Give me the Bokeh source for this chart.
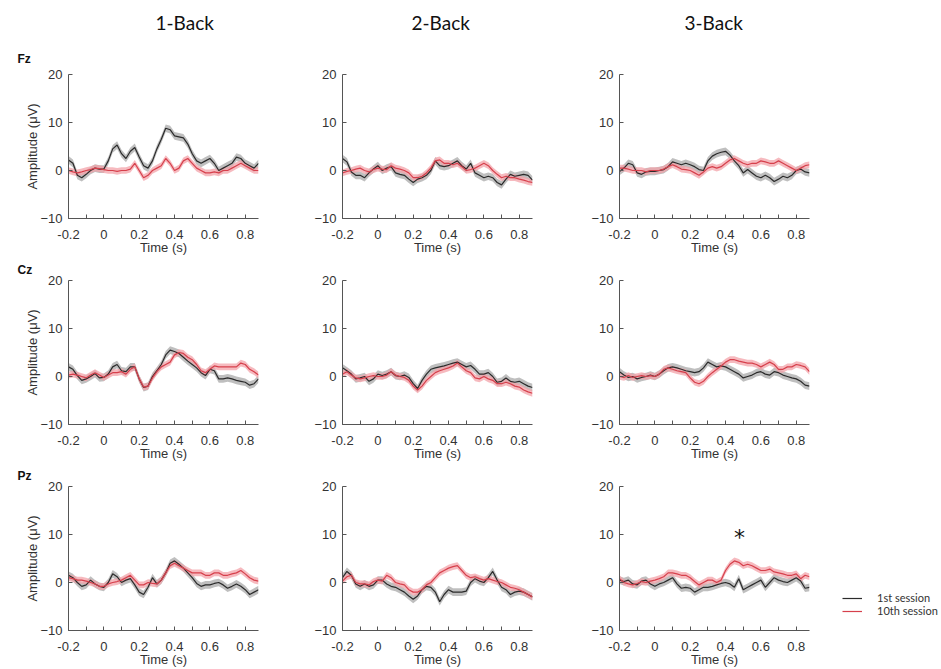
from bokeh.plotting import figure
from bokeh.layouts import row, column
from bokeh.models import FixedTicker, Title, Legend, LegendItem, Range1d
from bokeh.embed import file_html
from bokeh.resources import INLINE
from bokeh.core.properties import value

# ---------------- data ----------------
TIME = [-0.2, -0.175, -0.15, -0.125, -0.1, -0.075, -0.05, -0.025, 0.0, 0.025,
        0.05, 0.075, 0.1, 0.125, 0.15, 0.175, 0.2, 0.225, 0.25, 0.275,
        0.3, 0.325, 0.35, 0.375, 0.4, 0.425, 0.45, 0.475, 0.5, 0.525,
        0.55, 0.575, 0.6, 0.625, 0.65, 0.675, 0.7, 0.725, 0.75, 0.775,
        0.8, 0.825, 0.85, 0.875]

CONDITIONS = ["1-Back", "2-Back", "3-Back"]
ELECTRODES = ["Fz", "Cz", "Pz"]
SESSIONS = ["1st session", "10th session"]

X_TICKS = [-0.2, 0.0, 0.2, 0.4, 0.6, 0.8]
X_TICK_LABELS = ["-0.2", "0", "0.2", "0.4", "0.6", "0.8"]
X_MINOR = [-0.1, 0.1, 0.3, 0.5, 0.7]
Y_TICKS = [-10, 0, 10, 20]

SEM_1ST = 0.8
SEM_10TH = 0.7

FZ_1B_S1 = [2.2, 1.5, -1.0, -1.5, -0.8, 0.0, 0.5, 0.3, 0.3, 2.0, 4.5, 5.3, 3.5, 2.5, 4.0,
            4.8, 2.8, 1.0, 0.5, 2.0, 4.5, 6.5, 8.8, 8.5, 7.2, 7.0, 6.8, 5.5, 3.5, 2.0,
            1.5, 2.0, 2.5, 1.5, 0.0, 0.5, 1.0, 1.5, 2.8, 2.5, 1.5, 1.0, 0.5, 1.5]
FZ_1B_S10 = [0.0, -0.3, -0.5, -0.3, 0.0, 0.2, 0.5, 0.4, 0.2, 0.0, 0.0, -0.2, 0.0, 0.0, 0.3,
             1.5, 0.0, -1.5, -1.0, 0.0, 0.5, 1.0, 2.5, 1.5, 0.0, 0.5, 2.0, 2.5, 1.5, 0.5,
             0.0, -0.5, -0.5, -0.3, -0.5, 0.0, 0.0, 0.5, 1.0, 1.5, 1.0, 0.5, 0.0, 0.0]
CZ_1B_S1 = [2.0, 1.5, 0.2, -0.8, -0.5, 0.0, 0.6, -0.3, -0.2, 0.5, 2.0, 2.5, 1.2, 1.0, 2.0,
            2.0, -0.5, -2.3, -2.0, 0.0, 1.2, 2.5, 4.5, 5.5, 5.2, 4.8, 4.0, 3.2, 2.5, 1.8,
            0.8, 0.2, 1.5, 1.2, -0.5, -0.5, -0.3, -0.5, -0.8, -1.0, -1.2, -1.8, -1.5, -0.5]
CZ_1B_S10 = [0.3, 0.5, 0.3, 0.0, -0.3, 0.3, 0.8, 0.3, -0.2, 0.3, 0.8, 0.8, 1.0, 0.5, 1.5,
             2.0, -0.5, -2.2, -2.0, -0.3, 1.0, 2.0, 2.5, 3.0, 4.5, 5.0, 4.8, 4.0, 3.5, 2.5,
             1.2, 0.8, 1.5, 2.2, 2.0, 2.0, 2.0, 2.0, 2.0, 2.8, 2.5, 1.5, 1.0, 0.3]
PZ_1B_S1 = [1.5, 1.0, 0.0, -0.8, -0.5, 0.5, -0.3, -0.8, -1.0, 0.0, 1.8, 1.2, 0.0, 0.5, 0.8,
            -0.5, -2.0, -2.5, -1.0, 1.0, -0.3, 0.5, 2.0, 4.0, 4.5, 3.8, 3.0, 2.0, 1.0, -0.2,
            -0.8, -0.5, -0.5, -0.2, 0.0, -0.5, -1.2, -0.8, -0.3, -0.8, -1.5, -2.5, -2.0, -1.5]
PZ_1B_S10 = [1.0, 0.8, 0.5, 0.5, 0.3, 0.0, -0.3, -0.8, -0.8, -0.3, 0.0, 0.2, 0.5, 1.0, 1.5,
             0.5, -0.5, -0.5, 0.0, -0.2, -0.3, 0.5, 2.0, 3.5, 4.0, 3.5, 3.0, 2.5, 2.0, 2.0,
             2.0, 1.5, 1.5, 2.0, 2.0, 1.5, 1.5, 1.8, 2.0, 2.5, 1.8, 1.0, 0.5, 0.3]

FZ_2B_S1 = [2.5, 1.8, -0.3, -1.0, -1.0, -1.5, -0.5, 0.3, 1.0, 0.0, 0.5, 0.8, -0.5, -0.8, -1.0,
            -1.8, -2.5, -1.8, -1.5, -1.0, 0.0, 2.0, 1.0, 0.8, 1.0, 1.5, 2.0, 1.0, 0.3, 1.5,
            -0.5, -1.0, -1.5, -1.2, -1.5, -2.5, -3.0, -1.8, -0.8, -1.2, -1.0, -0.8, -1.0, -2.0]
FZ_2B_S10 = [-0.5, -0.2, 0.0, 0.3, 0.5, 0.0, -0.3, 0.2, 0.5, 0.3, 0.2, 1.0, 0.5, 0.3, 0.0,
             -0.5, -1.5, -1.5, -1.2, -0.5, 0.5, 2.0, 2.2, 1.5, 1.5, 1.2, 1.5, 0.8, 0.0, 0.2,
             0.5, 1.0, 1.5, 1.0, 0.0, -0.8, -1.5, -1.2, -1.5, -1.5, -1.8, -2.0, -2.3, -2.5]
CZ_2B_S1 = [1.8, 1.2, 0.5, -0.5, -0.3, 0.0, -1.0, -0.5, 0.5, 0.2, 0.5, 1.0, 0.2, 0.0, 0.3,
            -0.2, -1.5, -2.5, -0.8, 0.5, 1.5, 1.8, 2.0, 2.2, 2.5, 2.8, 3.0, 2.5, 2.0, 2.3,
            1.5, 0.5, 0.5, 0.8, 0.0, -1.2, -1.0, -0.3, -1.0, -1.2, -1.0, -1.5, -2.0, -2.3]
CZ_2B_S10 = [0.5, 1.0, 0.3, -0.3, -0.5, -0.3, 0.0, 0.2, 0.0, 0.0, 0.3, 1.0, 0.3, 0.0, -0.2,
             -0.8, -2.0, -2.8, -2.0, -0.8, 0.0, 0.8, 1.2, 1.5, 1.8, 2.2, 2.8, 2.0, 1.2, 0.8,
             -0.3, -0.5, 0.0, -0.5, -0.8, -1.5, -1.5, -1.2, -1.5, -2.0, -2.2, -2.8, -3.2, -3.5]
PZ_2B_S1 = [1.0, 2.3, 1.5, -0.3, -0.8, -0.3, -0.8, -0.5, 0.5, 0.5, -0.3, -0.8, -1.0, -1.5, -2.0,
            -2.8, -3.5, -2.8, -1.5, -0.8, -1.0, -2.0, -4.0, -2.5, -1.5, -2.0, -2.0, -2.0, -1.8, 0.0,
            0.8, 0.3, 0.0, 1.0, 2.3, 0.5, -1.0, -1.5, -2.5, -2.0, -1.8, -2.0, -2.5, -3.0]
PZ_2B_S10 = [0.3, 1.2, 1.5, 0.0, -0.3, -0.3, -0.5, 0.2, 0.5, 0.3, 1.5, 1.0, 0.0, -0.3, -0.5,
             -1.5, -2.0, -2.0, -1.5, -0.5, 0.0, 1.0, 2.0, 2.5, 3.0, 3.3, 3.5, 2.5, 1.5, 1.0,
             1.2, 0.8, 0.5, 0.8, 0.5, 0.2, 0.0, -0.5, -1.0, -1.2, -1.5, -2.0, -2.5, -3.0]

FZ_3B_S1 = [-0.2, 0.5, 1.5, 1.2, -0.5, -0.8, -0.3, -0.2, -0.2, 0.0, 0.2, 0.8, 1.8, 1.5, 1.2,
            1.5, 1.2, 0.8, 0.2, 0.0, 2.0, 3.0, 3.5, 3.8, 4.0, 3.2, 2.0, 1.0, -0.5, 0.2,
            -0.5, -1.2, -1.5, -1.0, -1.5, -2.3, -1.8, -1.2, -1.5, -1.0, 0.0, 0.3, -0.3, -0.5]
FZ_3B_S10 = [0.5, 0.5, 0.3, 0.0, 0.0, 0.0, -0.3, 0.0, 0.0, 0.0, 0.3, 0.8, 1.2, 0.8, 0.3,
             0.2, 0.0, -0.5, -1.0, -0.3, 0.5, 0.8, 0.5, 0.8, 1.5, 2.2, 2.5, 2.0, 1.5, 1.2,
             1.5, 1.5, 2.0, 1.8, 1.5, 1.5, 2.0, 1.5, 1.0, 0.5, 0.0, 0.5, 1.0, 1.2]
CZ_3B_S1 = [1.0, 0.3, -0.2, 0.0, -0.5, -0.2, 0.0, 0.3, 0.0, 0.5, 1.2, 1.8, 2.0, 1.8, 1.5,
            1.2, 1.0, 0.8, 1.0, 1.8, 3.0, 2.5, 2.0, 2.2, 2.0, 1.5, 1.0, 0.5, -0.3, 0.0,
            0.3, 0.8, 1.0, 0.5, 0.3, 1.0, 0.8, 0.3, 0.0, -0.3, -0.5, -1.0, -1.8, -2.0]
CZ_3B_S10 = [0.0, -0.2, 0.2, -0.2, 0.0, 0.2, 0.0, 0.2, 0.0, 0.5, 1.5, 1.8, 1.5, 1.2, 1.0,
             0.8, -0.3, -1.2, -1.5, -1.0, 0.0, 0.8, 1.5, 2.2, 3.0, 3.5, 3.5, 3.2, 3.0, 2.8,
             2.8, 2.5, 2.0, 2.5, 3.0, 2.5, 1.5, 1.5, 2.0, 2.0, 2.5, 2.3, 2.0, 1.0]
PZ_3B_S1 = [0.5, 0.2, 0.5, -0.3, -0.5, 0.3, 0.5, -0.3, -0.8, -0.3, 0.0, 0.5, 1.0, -0.3, -1.2,
            -1.0, -1.2, -2.0, -1.5, -1.0, -1.0, -0.8, -0.5, -0.2, 0.0, -0.3, -1.0, 0.8, -1.5, -1.0,
            -0.5, 0.0, 0.5, -1.0, 0.0, 1.0, 0.5, 0.2, 0.0, 0.5, 1.0, 0.3, -1.2, -1.0]
PZ_3B_S10 = [0.8, 0.0, -0.3, -0.5, -0.2, 0.2, 0.0, 0.3, 0.5, 0.8, 1.2, 2.0, 2.0, 1.8, 1.5,
             1.5, 1.0, 0.2, -0.5, 0.0, 0.5, 0.5, 0.0, 0.5, 2.5, 3.8, 4.5, 4.2, 3.5, 3.8,
             3.5, 3.0, 2.5, 2.5, 2.8, 2.2, 2.0, 1.8, 1.5, 1.5, 1.8, 0.8, 1.5, 1.2]

# significance marker (Pz, 3-Back)
SIG_TIME = [0.479]
SIG_LEVEL = [9.4]

DATA = [
    [(FZ_1B_S1, FZ_1B_S10), (FZ_2B_S1, FZ_2B_S10), (FZ_3B_S1, FZ_3B_S10)],
    [(CZ_1B_S1, CZ_1B_S10), (CZ_2B_S1, CZ_2B_S10), (CZ_3B_S1, CZ_3B_S10)],
    [(PZ_1B_S1, PZ_1B_S10), (PZ_2B_S1, PZ_2B_S10), (PZ_3B_S1, PZ_3B_S10)],
]

# ---------------- styling ----------------
BLACK_LINE = "#2b2b2b"
BLACK_BAND = "#b4b4b4"
RED_LINE = "#d6404c"
RED_BAND = "#f3a3a9"
AXIS_COL = "#555555"
TEXT_COL = "#333333"

X_START, X_END = -0.2, 0.875
Y_MIN, Y_MAX = -10, 20
FRAME_W, FRAME_H = 190, 144
BORDER_L = [68, 60, 60]
BORDER_R = [24, 27, 122]
BORDER_T = [74, 22, 22]
BORDER_B = [39, 39, 39]
ROW_LABEL_STANDOFF = [17, 7, 7]
COL_TITLE_STANDOFF = 16
COL_TITLE_DX = [87, 69, 65]


def row_label(text, standoff):
    return Title(text=text, align="left", offset=-51, standoff=standoff,
                 text_font="Liberation Sans", text_font_style="bold",
                 text_font_size="12px", text_color="#111111")


def make_panel(r, c):
    s1, s10 = DATA[r][c]
    p = figure(title=None, frame_width=FRAME_W, frame_height=FRAME_H,
               x_range=Range1d(X_START, X_END), y_range=Range1d(Y_MIN, Y_MAX),
               output_backend="svg", toolbar_location=None,
               min_border_left=BORDER_L[c], min_border_right=BORDER_R[c],
               min_border_top=BORDER_T[r], min_border_bottom=BORDER_B[r])
    p.xgrid.visible = False
    p.ygrid.visible = False
    p.outline_line_color = None
    p.background_fill_color = "white"
    p.border_fill_color = "white"

    p.varea(x=TIME, y1=[v - SEM_1ST for v in s1], y2=[v + SEM_1ST for v in s1],
            fill_color=BLACK_BAND, fill_alpha=0.85)
    p.varea(x=TIME, y1=[v - SEM_10TH for v in s10], y2=[v + SEM_10TH for v in s10],
            fill_color=RED_BAND, fill_alpha=0.75)
    l1 = p.line(TIME, s1, line_color=BLACK_LINE, line_width=1.2)
    l10 = p.line(TIME, s10, line_color=RED_LINE, line_width=1.2)

    # axes
    xa = p.xaxis[0]
    xa.ticker = FixedTicker(ticks=X_TICKS, minor_ticks=X_MINOR)
    xa.major_label_overrides = dict(zip(X_TICKS, X_TICK_LABELS))
    xa.axis_label = "Time (s)"
    ya = p.yaxis[0]
    ya.ticker = FixedTicker(ticks=Y_TICKS, minor_ticks=[])
    if c == 0:
        ya.axis_label = "Amplitude (\u03bcV)"
    for ax in (xa, ya):
        ax.axis_line_color = AXIS_COL
        ax.major_tick_line_color = AXIS_COL
        ax.minor_tick_line_color = AXIS_COL
        ax.major_tick_in = 4
        ax.major_tick_out = 0
        ax.minor_tick_in = 4
        ax.minor_tick_out = 0
        ax.major_label_text_font = "Liberation Sans"
        ax.major_label_text_font_size = "13px"
        ax.major_label_text_color = TEXT_COL
        ax.axis_label_text_font = "Liberation Sans"
        ax.axis_label_text_font_size = "13px"
        ax.axis_label_text_font_style = "normal"
        ax.axis_label_text_color = TEXT_COL
    xa.major_label_standoff = 11
    xa.axis_label_standoff = -2
    ya.major_label_standoff = 6
    ya.axis_label_standoff = -3

    # electrode labels and condition titles
    if c == 0:
        p.add_layout(row_label(ELECTRODES[r], ROW_LABEL_STANDOFF[r]), "above")
    elif r == 0:
        p.add_layout(row_label(" ", ROW_LABEL_STANDOFF[0]), "above")
    if r == 0:
        p.add_layout(Title(text=CONDITIONS[c], align="left", offset=COL_TITLE_DX[c],
                           standoff=COL_TITLE_STANDOFF, text_font="Lato",
                           text_font_style="normal", text_font_size="19px",
                           text_color="#111111"), "above")

    if r == 2 and c == 2:
        p.text(x=SIG_TIME, y=SIG_LEVEL, text=["*"], text_font=value("DejaVu Sans"),
               text_font_size=value("22px"), text_align="center",
               text_baseline="middle", text_color="#111111")
        legend = Legend(items=[LegendItem(label=SESSIONS[0], renderers=[l1]),
                               LegendItem(label=SESSIONS[1], renderers=[l10])],
                        location=(33, 13), orientation="vertical",
                        border_line_color=None, background_fill_alpha=0,
                        margin=0, padding=0, spacing=0,
                        glyph_width=20, glyph_height=10, label_height=10,
                        label_standoff=15, label_text_font="Lato",
                        label_text_font_size="11px", label_text_color=TEXT_COL)
        p.add_layout(legend, "right")
    return p


rows = []
for r in range(3):
    rows.append(row([make_panel(r, c) for c in range(3)]))
layout = column(rows)

open("out.html", "w").write(file_html(layout, INLINE))
